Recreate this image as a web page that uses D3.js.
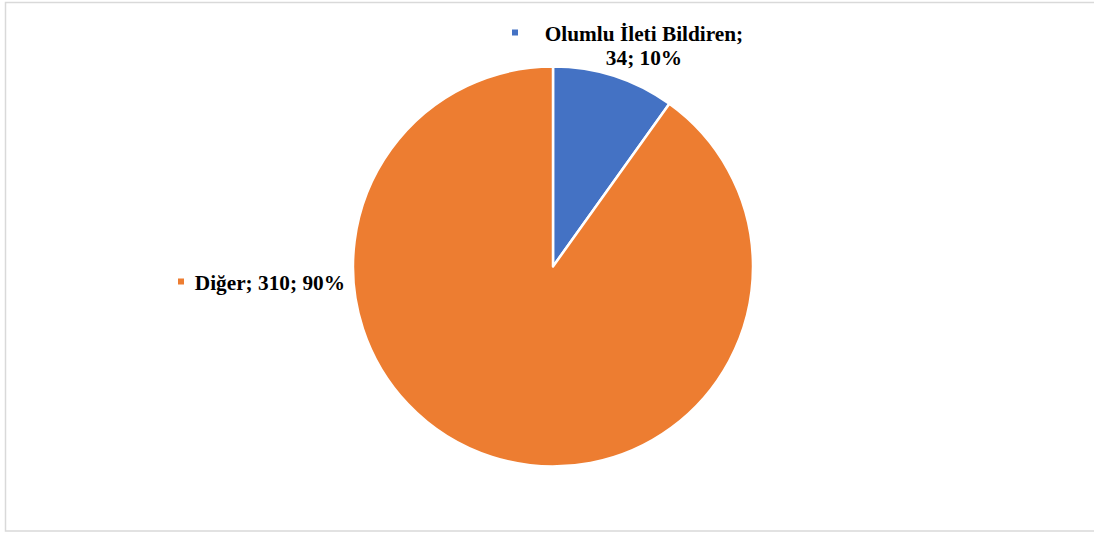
<!DOCTYPE html>
<html>
<head>
<meta charset="utf-8">
<script src="https://cdn.jsdelivr.net/npm/d3@7"></script>
<style>
  html, body { margin: 0; padding: 0; background: #fff; }
  svg { display: block; }
</style>
</head>
<body>
<svg id="chart" width="1094" height="533"></svg>
<script>
// Slice categories and counts
const categories = ["Olumlu İleti Bildiren", "Diğer"];
const values = [34, 310];
const colors = ["#4472C4", "#ED7D31"];

const svg = d3.select("#chart");

// Chart frame
svg.append("rect")
  .attr("x", 5.5).attr("y", 2.5)
  .attr("width", 1094).attr("height", 528.5)
  .attr("fill", "#fff")
  .attr("stroke", "#d9d9d9")
  .attr("stroke-width", 1.5);

const cx = 553, cy = 266.5, r = 200;
const total = d3.sum(values);

const pie = d3.pie().sort(null).value(d => d)
  .startAngle(0).endAngle(2 * Math.PI);
const arc = d3.arc().innerRadius(0).outerRadius(r);

const g = svg.append("g").attr("transform", `translate(${cx},${cy})`);
g.selectAll("path")
  .data(pie(values))
  .join("path")
  .attr("d", arc)
  .attr("fill", (d, i) => colors[i])
  .attr("stroke", "#fff")
  .attr("stroke-width", 2.5)
  .attr("stroke-linejoin", "round");

const font = "'Liberation Serif', 'Times New Roman', serif";
const fs = 21.3;
const pct = v => Math.round(v / total * 100) + "%";

// Label for the first slice (two lines, centred)
const l1 = svg.append("text")
  .attr("x", 644).attr("y", 41)
  .attr("text-anchor", "middle")
  .attr("font-family", font).attr("font-weight", "bold")
  .attr("font-size", fs).attr("fill", "#000");
l1.append("tspan").attr("x", 644).attr("dy", 0).text(categories[0] + ";");
l1.append("tspan").attr("x", 644).attr("dy", 24).text(values[0] + "; " + pct(values[0]));
svg.append("rect")
  .attr("x", 512).attr("y", 29.5).attr("width", 6).attr("height", 6)
  .attr("fill", colors[0]);

// Label for the second slice
svg.append("text")
  .attr("x", 345).attr("y", 290)
  .attr("text-anchor", "end")
  .attr("font-family", font).attr("font-weight", "bold")
  .attr("font-size", fs).attr("fill", "#000")
  .text(categories[1] + "; " + values[1] + "; " + pct(values[1]));
svg.append("rect")
  .attr("x", 178).attr("y", 278.5).attr("width", 6).attr("height", 6)
  .attr("fill", colors[1]);
</script>
</body>
</html>
